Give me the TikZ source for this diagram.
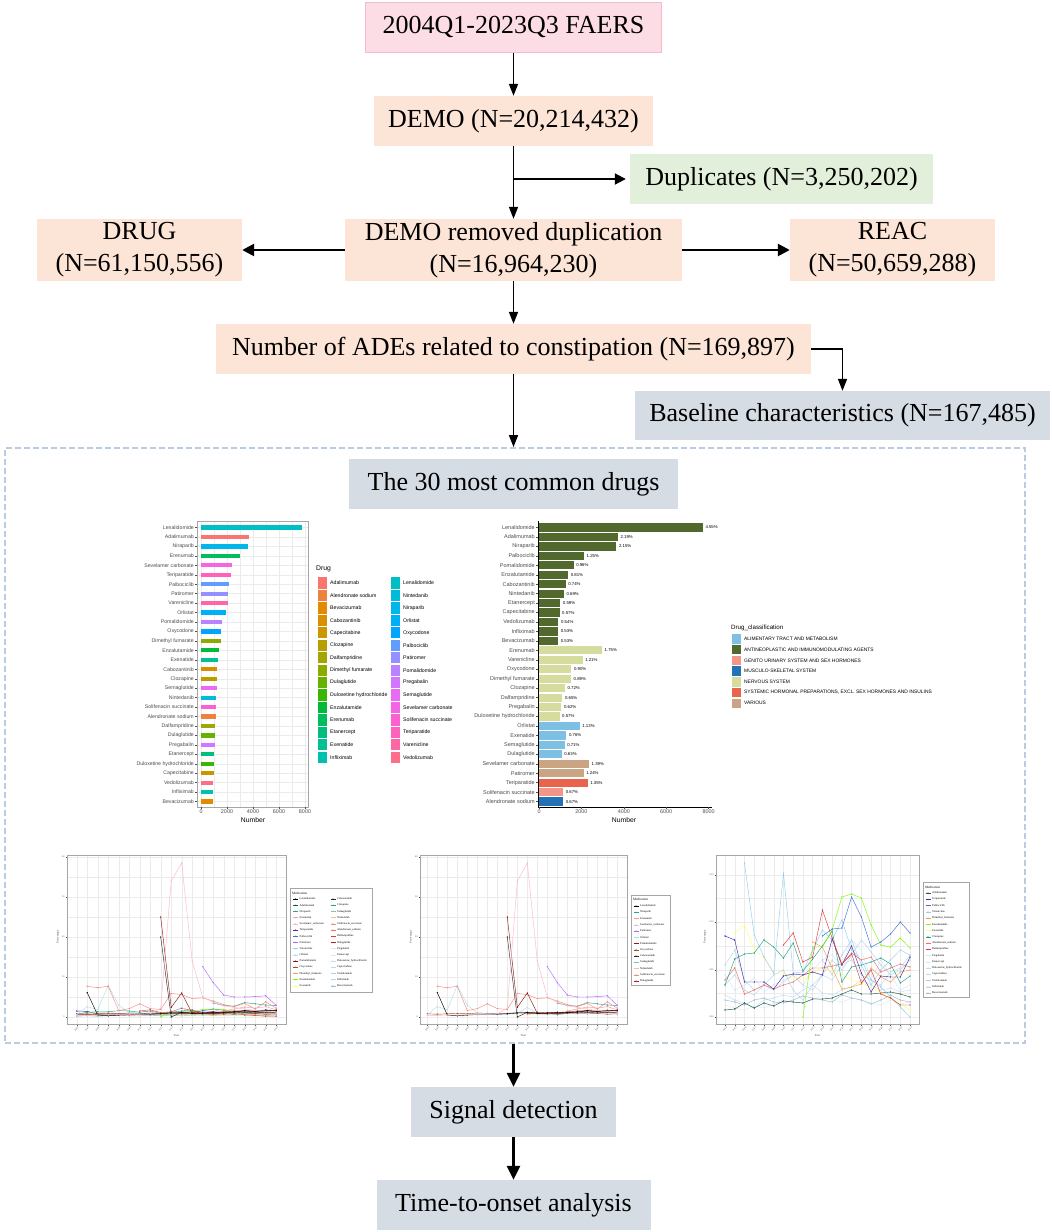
\documentclass[tikz,border=0pt]{standalone}
\usepackage{fontspec}
\setmainfont{Liberation Serif}
\newfontfamily\chartsans{Liberation Sans}
\usetikzlibrary{arrows.meta}

\definecolor{pinkbox}{HTML}{FDDDE5}
\definecolor{pinkedge}{HTML}{F7BACB}
\definecolor{peach}{HTML}{FCE4D6}
\definecolor{greenbox}{HTML}{E2EFDA}
\definecolor{graybox}{HTML}{D6DCE4}
\definecolor{dashblue}{HTML}{BACDE0}
\definecolor{gridgray}{HTML}{EBEBEB}
\definecolor{axgray}{HTML}{4D4D4D}
% ggplot hue palette (30 levels)
\definecolor{hu0}{HTML}{F8766D}\definecolor{hu1}{HTML}{ED813E}\definecolor{hu2}{HTML}{E28A00}
\definecolor{hu3}{HTML}{D89000}\definecolor{hu4}{HTML}{C99800}\definecolor{hu5}{HTML}{B79F00}
\definecolor{hu6}{HTML}{A3A500}\definecolor{hu7}{HTML}{8CAB00}\definecolor{hu8}{HTML}{65B200}
\definecolor{hu9}{HTML}{39B600}\definecolor{hu10}{HTML}{00BA38}\definecolor{hu11}{HTML}{00BD5F}
\definecolor{hu12}{HTML}{00BF7D}\definecolor{hu13}{HTML}{00C096}\definecolor{hu14}{HTML}{00C0AF}
\definecolor{hu15}{HTML}{00BFC4}\definecolor{hu16}{HTML}{00BBDA}\definecolor{hu17}{HTML}{00B6EB}
\definecolor{hu18}{HTML}{00B0F6}\definecolor{hu19}{HTML}{00A5FF}\definecolor{hu20}{HTML}{619CFF}
\definecolor{hu21}{HTML}{9590FF}\definecolor{hu22}{HTML}{B983FF}\definecolor{hu23}{HTML}{D376FF}
\definecolor{hu24}{HTML}{E76BF3}\definecolor{hu25}{HTML}{F564E3}\definecolor{hu26}{HTML}{FD61D1}
\definecolor{hu27}{HTML}{FF62BC}\definecolor{hu28}{HTML}{FF67A4}\definecolor{hu29}{HTML}{FD6F88}
% drug classes
\definecolor{cAL}{HTML}{7DC0E3}\definecolor{cAN}{HTML}{51692C}\definecolor{cGU}{HTML}{F4958A}
\definecolor{cMS}{HTML}{2372B5}\definecolor{cNS}{HTML}{D5DC9E}\definecolor{cSH}{HTML}{E8644C}
\definecolor{cVA}{HTML}{C9A583}
% medication lines
\definecolor{mLena}{HTML}{000000}\definecolor{mAdal}{HTML}{1E5A46}\definecolor{mNira}{HTML}{2BA39B}
\definecolor{mEren}{HTML}{F4A0A0}\definecolor{mSeve}{HTML}{FFB6C8}\definecolor{mTeri}{HTML}{4B2A9E}
\definecolor{mPalb}{HTML}{3D6FD6}\definecolor{mPati}{HTML}{B36BFF}\definecolor{mVare}{HTML}{8ECFF5}
\definecolor{mOrli}{HTML}{B0E0EE}\definecolor{mPoma}{HTML}{8B1A1A}\definecolor{mOxyc}{HTML}{A0522D}
\definecolor{mDime}{HTML}{F5A04A}\definecolor{mEnza}{HTML}{7CFC00}\definecolor{mExen}{HTML}{FFFF70}
\definecolor{mCabo}{HTML}{2A2A2A}\definecolor{mCloz}{HTML}{23A184}\definecolor{mSema}{HTML}{7CC8AE}
\definecolor{mNint}{HTML}{FDC086}\definecolor{mSoli}{HTML}{F88A80}\definecolor{mAlen}{HTML}{F06F6F}
\definecolor{mDalf}{HTML}{E23A3A}\definecolor{mDula}{HTML}{B22222}\definecolor{mPreg}{HTML}{D3E8F3}
\definecolor{mEtan}{HTML}{DCECF6}\definecolor{mDulo}{HTML}{C3DEEE}\definecolor{mCape}{HTML}{BBD9EB}
\definecolor{mVedo}{HTML}{ABCFE6}\definecolor{mInfl}{HTML}{B5D5EA}\definecolor{mBeva}{HTML}{9DBCD6}

\newcommand\shlab{SYSTEMIC HORMONAL PREPARATIONS, EXCL. SEX HORMONES AND INSULINS}

\tikzset{
  fbox/.style={inner sep=0pt, align=center, font=\fontsize{26}{32}\selectfont},
  thinarrow/.style={line width=1.6pt, -{Triangle[length=12pt,width=9pt]}},
  sidearrow/.style={line width=2.5pt, -{Triangle[length=12pt,width=12pt]}},
  duparrow/.style={line width=2pt, -{Triangle[length=11pt,width=11pt]}},
  boldarrow/.style={line width=2.7pt, -{Triangle[length=14pt,width=13pt]}},
  ylabL/.style={font=\chartsans\fontsize{5.2}{6}\selectfont, text=axgray, inner sep=0pt, anchor=east},
  ylabR/.style={font=\chartsans\fontsize{5.5}{6}\selectfont, text=axgray, inner sep=0pt, anchor=east},
  pctlab/.style={font=\chartsans\fontsize{4.3}{5}\selectfont, text=black, inner sep=0pt, anchor=west},
  axlab/.style={font=\chartsans\fontsize{5.4}{6}\selectfont, text=axgray, inner sep=0pt},
  axtitle/.style={font=\chartsans\fontsize{6.8}{7}\selectfont, text=black, inner sep=0pt},
  leglab/.style={font=\chartsans\fontsize{5.2}{6}\selectfont, text=black, inner sep=0pt, anchor=west},
  clslab/.style={font=\chartsans\fontsize{4.9}{6}\selectfont, text=black, inner sep=0pt, anchor=west},
  tinylab/.style={font=\fontsize{2.4}{3}\selectfont, text=axgray, inner sep=0.2pt},
  mlab/.style={font=\fontsize{2.8}{3}\selectfont, text=black, inner sep=0pt, anchor=west},
  mtitle/.style={font=\fontsize{3.3}{4}\selectfont, text=black, inner sep=0pt, anchor=west},
  ser/.style={draw=#1, line width=0.45pt, mark=*, mark size=0.55pt, mark options={fill=#1, draw=#1, line width=0.1pt}},
  grid/.style={gridgray, line width=0.4pt},
}

% ---------- time-series data (value in %) ----------
\newcommand\serPaleA{%
 \draw[ser=mEtan] plot coordinates {(0,0.5)(1,0.6)(2,0.4)(3,0.5)(4,0.7)(5,0.6)(6,0.5)(7,0.6)(8,0.7)(9,0.6)(10,0.8)(11,0.7)(12,0.6)(13,0.8)(14,0.7)(15,0.9)(16,0.8)(17,0.7)(18,0.9)(19,0.8)};
 \draw[ser=mPreg] plot coordinates {(0,0.9)(1,1.1)(2,0.8)(3,1.2)(4,0.9)(5,1.0)(6,1.3)(7,1.1)(8,0.9)(9,1.2)(10,1.4)(11,1.1)(12,1.0)(13,1.3)(14,1.2)(15,1.5)(16,1.2)(17,1.4)(18,1.3)(19,1.1)};
 \draw[ser=mDulo] plot coordinates {(0,0.3)(1,0.4)(2,0.6)(3,0.5)(4,0.4)(5,0.6)(6,0.7)(7,0.5)(8,0.6)(9,0.8)(10,0.7)(11,0.6)(12,0.9)(13,0.8)(14,1.0)(15,0.9)(16,0.8)(17,1.0)(18,0.9)(19,1.1)};
 \draw[ser=mCape] plot coordinates {(0,0.7)(1,0.8)(2,0.6)(3,0.7)(4,0.5)(5,0.6)(6,0.8)(7,0.7)(8,0.6)(9,0.5)(10,0.6)(11,0.7)(12,0.9)(13,0.8)(14,0.7)(15,0.6)(16,0.7)(17,0.8)(18,0.6)(19,0.7)};
 \draw[ser=mBeva] plot coordinates {(0,0.2)(1,0.3)(2,0.2)(3,0.3)(4,0.4)(5,0.3)(6,0.3)(7,0.4)(8,0.3)(9,0.4)(10,0.3)(11,0.4)(12,0.5)(13,0.4)(14,0.5)(15,0.4)(16,0.6)(17,0.5)(18,0.4)(19,0.5)};
 \draw[ser=mVedo] plot coordinates {(10,1.4)(11,1.0)(12,1.6)(13,1.9)(14,1.2)(15,0.8)(16,1.1)(17,1.4)(18,1.6)(19,1.5)};
}
\newcommand\serLow{%
 \draw[ser=mAdal] plot coordinates {(0,0.7)(1,0.6)(2,0.6)(3,0.4)(4,0.6)(5,0.5)(6,0.6)(7,0.6)(8,0.5)(9,0.7)(10,0.7)(11,0.8)(12,0.8)(13,0.9)(14,0.9)(15,1.0)(16,1.0)(17,1.1)(18,1.0)(19,1.0)};
 \draw[ser=mTeri] plot coordinates {(0,1.5)(1,1.4)(2,0.8)(3,0.8)(4,0.8)(5,0.7)(6,0.9)(7,0.9)(8,0.9)(9,0.9)(10,0.9)(11,1.4)(12,1.2)(13,1.3)(14,0.9)(15,0.7)(16,0.9)(17,0.9)(18,0.9)(19,1.2)};
 \draw[ser=mPalb] plot coordinates {(11,1.0)(12,1.6)(13,2.0)(14,1.7)(15,1.3)(16,1.4)(17,1.5)(18,1.8)(19,1.6)};
 \draw[ser=mDime] plot coordinates {(9,1.2)(10,1.1)(11,0.9)(12,0.6)(13,0.6)(14,0.7)(15,0.9)(16,0.8)(17,0.7)(18,0.9)(19,0.9)};
 \draw[ser=mEnza] plot coordinates {(8,0)(9,1.2)(10,1.2)(11,1.4)(12,1.9)(13,2.0)(14,1.9)(15,1.4)(16,1.2)(17,1.2)(18,1.3)(19,1.2)};
 \draw[ser=mExen] plot coordinates {(1,1.0)(2,1.1)(3,0.8)(4,0.7)(5,0.5)(6,0.5)(7,0.6)(8,0.5)(9,0.6)(10,0.6)(11,0.5)(12,0.6)(13,0.5)(14,0.5)(15,0.4)(16,0.3)(17,0.3)(18,0.2)(19,0.2)};
 \draw[ser=mCloz] plot coordinates {(0,0.6)(1,1.2)(2,1.3)(3,1.3)(4,1.6)(5,1.5)(6,1.2)(7,1.5)(8,0.9)(9,1.2)(10,1.5)(11,1.8)(12,0.7)(13,1.0)(14,1.1)(15,1.2)(16,1.3)(17,1.1)(18,0.7)(19,0.9)};
 \draw[ser=mAlen] plot coordinates {(0,0.6)(1,0.8)(2,0.4)(3,0.5)(4,0.6)(5,0.5)(6,0.6)(7,0.7)(8,0.8)(9,1.0)(10,1.0)(11,1.0)(12,1.1)(13,1.3)(14,1.2)(15,1.3)(16,0.9)(17,1.0)(18,1.1)(19,1.0)};
 \draw[ser=mDalf] plot coordinates {(6,1.5)(7,1.8)(8,1.1)(9,1.3)(10,2.2)(11,1.6)(12,1.1)(13,1.3)(14,0.7)(15,1.0)(16,0.5)(17,0.4)(18,0.2)(19,0.2)};
}
\newcommand\serLena{\draw[ser=mLena] plot coordinates {(1,6.1)(2,0.5)(3,0.3)(4,0.5)(5,0.6)(6,0.7)(7,0.7)(8,0.8)(9,1.0)(10,1.1)(11,0.9)(12,1.0)(13,1.2)(14,1.1)(15,1.3)(16,1.6)(17,1.4)(18,1.5)(19,1.7)};}
\newcommand\serOxyc{\draw[ser=mOxyc] plot coordinates {(0,0.8)(1,0.7)(2,0.8)(3,0.9)(4,0.8)(5,1.0)(6,0.9)(7,0.8)(8,0.9)(9,1.1)(10,1.0)(11,0.8)(12,0.8)(13,0.7)(14,0.9)(15,1.0)(16,0.8)(17,0.9)(18,0.7)(19,0.8)};}
\newcommand\serNint{\draw[ser=mNint] plot coordinates {(10,0.6)(11,0.9)(12,1.1)(13,1.0)(14,1.2)(15,1.1)(16,1.3)(17,1.0)(18,1.1)(19,1.0)};}
\newcommand\serSema{\draw[ser=mSema] plot coordinates {(13,0.5)(14,1.0)(15,1.2)(16,1.5)(17,1.6)(18,1.5)(19,1.7)};}
\newcommand\serDula{\draw[ser=mDula] plot coordinates {(10,0.8)(11,1.2)(12,1.0)(13,1.1)(14,1.3)(15,1.5)(16,1.6)(17,1.4)(18,1.7)(19,1.5)};}
\newcommand\serEren{\draw[ser=mEren] plot coordinates {(14,1.5)(15,2.0)(16,2.5)(17,2.2)(18,2.6)(19,1.8)};}
\newcommand\serOrli{\draw[ser=mOrli] plot coordinates {(0,0.6)(1,2.6)(2,1.8)(3,7.9)(4,3.0)(5,1.0)(6,0.8)(7,0.7)(8,0.7)(9,0.9)(10,2.4)(11,0.8)(12,0.7)(13,0.9)(14,1.0)(15,0.8)(16,0.9)(17,1.1)(18,0.8)(19,0.9)};}
\newcommand\serNira{\draw[ser=mNira] plot coordinates {(13,3.5)(14,2.9)(15,2.7)(16,3.6)(17,3.3)(18,3.0)(19,2.9)};}
\newcommand\serSoli{\draw[ser=mSoli] plot coordinates {(1,7.7)(2,7.3)(3,7.7)(4,1.6)(5,2.1)(6,3.3)(7,2.1)(8,1.9)(9,5.9)(10,5.6)(11,4.6)(12,4.8)(13,4.0)(14,3.1)(15,2.6)(16,3.4)(17,2.0)(18,3.8)(19,2.2)};}
\newcommand\serPati{\draw[ser=mPati] plot coordinates {(12,12.6)(13,8.6)(14,5.5)(15,5.0)(16,5.0)(17,5.1)(18,5.3)(19,2.9)};}
\newcommand\serCabo{\draw[ser=mCabo] plot coordinates {(8,20)(9,0)(10,1.2)(11,1.0)(12,0.8)(13,0.9)(14,1.1)(15,1.0)(16,1.2)(17,1.0)(18,1.3)(19,1.1)};}
\newcommand\serPoma{\draw[ser=mPoma] plot coordinates {(8,25)(9,2.4)(10,6.0)(11,0.9)(12,1.0)(13,0.8)(14,1.0)(15,1.2)(16,1.5)(17,1.3)(18,1.1)(19,1.2)};}
\newcommand\serSeve{\draw[ser=mSeve] plot coordinates {(0,0.4)(1,0.4)(2,0.5)(3,0.5)(4,0.6)(5,0.6)(6,0.7)(7,0.8)(8,2.2)(9,34)(10,38.5)(11,14)(12,5)(13,3.7)(14,2.8)(15,2.4)(16,2.0)(17,1.6)(18,1.4)(19,1.2)};}

% x axis of a time panel: #1 prefix, #2 left, #3 right, #4 first-year x, #5 step
\newcommand\timeaxis[5]{%
 \foreach \yr [count=\k from 0] in {2004,...,2023} {
   \draw[grid] ({#4+#5*\k},855) -- ({#4+#5*\k},1024);
   \draw[axgray, line width=0.3pt] ({#4+#5*\k},1024) -- ({#4+#5*\k},1025.5);
   \node[tinylab, rotate=45, anchor=north east] (#1yr\k) at ({#4+#5*\k+1},1026) {\yr};
 }
 \node[tinylab, font=\fontsize{3}{3}\selectfont] (#1year) at ({(#2+#3)/2},1036) {Year};
}

\begin{document}
\begin{tikzpicture}[x=1pt,y=-1pt]
\useasboundingbox (0,0) rectangle (1052,1232);
\fill[white] (0,0) rectangle (1052,1232);

% ================= flowchart =================
\node[fbox, fill=pinkbox, draw=pinkedge, line width=1pt, minimum width=296pt, minimum height=50pt] (faers) at (513.5,27) {2004Q1-2023Q3 FAERS};
\node[fbox, fill=peach, minimum width=279pt, minimum height=50pt] (demo) at (513.5,121) {DEMO (N=20,214,432)};
\node[fbox, fill=greenbox, minimum width=303pt, minimum height=50pt] (dup) at (781.5,179) {Duplicates (N=3,250,202)};
\node[fbox, fill=peach, minimum width=337pt, minimum height=62pt] (dedup) at (513.5,250) {DEMO removed duplication\\(N=16,964,230)};
\node[fbox, fill=peach, minimum width=205pt, minimum height=62pt] (drug) at (139.5,250) {DRUG\\(N=61,150,556)};
\node[fbox, fill=peach, minimum width=205pt, minimum height=62pt] (reac) at (892.5,250) {REAC\\(N=50,659,288)};
\node[fbox, fill=peach, minimum width=595pt, minimum height=50pt] (ades) at (513.5,349) {Number of ADEs related to constipation (N=169,897)};
\node[fbox, fill=graybox, minimum width=415pt, minimum height=49pt] (base) at (842.5,415.5) {Baseline characteristics (N=167,485)};
\node[draw=dashblue, line width=1.8pt, dash pattern=on 6pt off 3pt, minimum width=1020pt, minimum height=595pt, inner sep=0pt] (panel) at (515,745.5) {};
\node[fbox, fill=graybox, minimum width=329pt, minimum height=50pt] (top30) at (513.5,484) {The 30 most common drugs};
\node[fbox, fill=graybox, minimum width=205pt, minimum height=50pt] (sig) at (513.5,1112) {Signal detection};
\node[fbox, fill=graybox, minimum width=274pt, minimum height=50pt] (tto) at (513.5,1205) {Time-to-onset analysis};

\draw[thinarrow] (faers) -- (demo);
\draw[thinarrow] (demo) -- (dedup);
\coordinate (branch) at (demo.south |- dup.west);
\draw[duparrow, shorten >=4pt] (branch) -- (dup.west);
\draw[sidearrow] (dedup.west) -- (drug.east);
\draw[sidearrow] (dedup.east) -- (reac.west);
\draw[thinarrow] (dedup) -- (ades);
\draw[thinarrow] (ades.east) -| (base.north);
\draw[thinarrow] (ades.south) -- (ades.south |- panel.north);
\draw[boldarrow] (panel.south -| sig) -- (sig.north);
\draw[boldarrow] (sig) -- (tto);

% ================= left bar chart =================
\foreach \gx in {201,227,253,279,305} \draw[grid] (\gx,521) -- (\gx,807);
\foreach \gx in {214,240,266,292} \draw[gridgray, line width=0.25pt] (\gx,521) -- (\gx,807);
\foreach \i in {0,...,29} \draw[grid] (197,527.5+9.45*\i) -- (308,527.5+9.45*\i);
\foreach \name/\pct/\col [count=\i from 0] in {Lenalidomide/4.55/hu15, Adalimumab/2.19/hu0, Niraparib/2.15/hu17, Erenumab/1.75/hu11, Sevelamer carbonate/1.39/hu25, Teriparatide/1.35/hu27, Palbociclib/1.25/hu20, Patiromer/1.24/hu21, Varenicline/1.21/hu28, Orlistat/1.13/hu18, Pomalidomide/0.96/hu22, Oxycodone/0.90/hu19, Dimethyl fumarate/0.89/hu7, Enzalutamide/0.81/hu10, Exenatide/0.76/hu13, Cabozantinib/0.74/hu3, Clozapine/0.72/hu5, Semaglutide/0.71/hu24, Nintedanib/0.69/hu16, Solifenacin succinate/0.67/hu26, Alendronate sodium/0.67/hu1, Dalfampridine/0.65/hu6, Dulaglutide/0.63/hu8, Pregabalin/0.62/hu23, Etanercept/0.59/hu12, Duloxetine hydrochloride/0.57/hu9, Capecitabine/0.57/hu4, Vedolizumab/0.54/hu29, Infliximab/0.53/hu14, Bevacizumab/0.53/hu2} {
  \fill[\col] (201,527.5+9.45*\i-2.1) rectangle ({201+22.09*\pct},527.5+9.45*\i+2.1);
  \draw[axgray, line width=0.4pt] (195,527.5+9.45*\i) -- (197,527.5+9.45*\i);
  \node[ylabL] (lbL\i) at (194,527.5+9.45*\i) {\name};
}
\draw[gray!70, line width=0.6pt] (197,521) rectangle (308,807);
\foreach \v [count=\k from 0] in {0,2000,4000,6000,8000} {
  \draw[axgray, line width=0.4pt] (201+26*\k,807) -- (201+26*\k,809);
  \node[axlab, anchor=north] (nxL\k) at (201+26*\k,810) {\v};
}
\node[axtitle, anchor=north] (numL) at (253,817) {Number};

% left legend
\node[axtitle, anchor=west] (drugT) at (316,569) {Drug};
\foreach \lab/\col [count=\i from 0] in {Adalimumab/hu0, Alendronate sodium/hu1, Bevacizumab/hu2, Cabozantinib/hu3, Capecitabine/hu4, Clozapine/hu5, Dalfampridine/hu6, Dimethyl fumarate/hu7, Dulaglutide/hu8, Duloxetine hydrochloride/hu9, Enzalutamide/hu10, Erenumab/hu11, Etanercept/hu12, Exenatide/hu13, Infliximab/hu14} {
  \fill[\col] (318,583+12.45*\i-5.6) rectangle (327,583+12.45*\i+5.6);
  \node[leglab] (lgL\i) at (330,583+12.45*\i) {\lab};
}
\foreach \lab/\col [count=\i from 0] in {Lenalidomide/hu15, Nintedanib/hu16, Niraparib/hu17, Orlistat/hu18, Oxycodone/hu19, Palbociclib/hu20, Patiromer/hu21, Pomalidomide/hu22, Pregabalin/hu23, Semaglutide/hu24, Sevelamer carbonate/hu25, Solifenacin succinate/hu26, Teriparatide/hu27, Varenicline/hu28, Vedolizumab/hu29} {
  \fill[\col] (391,583+12.45*\i-5.6) rectangle (400,583+12.45*\i+5.6);
  \node[leglab] (lgM\i) at (403,583+12.45*\i) {\lab};
}

% ================= right bar chart =================
\foreach \name/\pct/\col [count=\i from 0] in {Lenalidomide/4.55/cAN, Adalimumab/2.19/cAN, Niraparib/2.15/cAN, Palbociclib/1.25/cAN, Pomalidomide/0.96/cAN, Enzalutamide/0.81/cAN, Cabozantinib/0.74/cAN, Nintedanib/0.69/cAN, Etanercept/0.59/cAN, Capecitabine/0.57/cAN, Vedolizumab/0.54/cAN, Infliximab/0.53/cAN, Bevacizumab/0.53/cAN, Erenumab/1.75/cNS, Varenicline/1.21/cNS, Oxycodone/0.90/cNS, Dimethyl fumarate/0.89/cNS, Clozapine/0.72/cNS, Dalfampridine/0.65/cNS, Pregabalin/0.62/cNS, Duloxetine hydrochloride/0.57/cNS, Orlistat/1.13/cAL, Exenatide/0.76/cAL, Semaglutide/0.71/cAL, Dulaglutide/0.63/cAL, Sevelamer carbonate/1.39/cVA, Patiromer/1.24/cVA, Teriparatide/1.35/cSH, Solifenacin succinate/0.67/cGU, Alendronate sodium/0.67/cMS} {
  \fill[\col] (539,527.5+9.45*\i-4.1) rectangle ({539+36*\pct},527.5+9.45*\i+4.1);
  \node[pctlab] (pc\i) at ({539+36*\pct+2.5},527.5+9.45*\i) {\pct\%};
  \draw[axgray, line width=0.4pt] (536,527.5+9.45*\i) -- (538,527.5+9.45*\i);
  \node[ylabR] (lbR\i) at (535,527.5+9.45*\i) {\name};
}
\draw[black, line width=0.5pt] (538,521) -- (538,807) -- (712,807);
\foreach \v [count=\k from 0] in {0,2000,4000,6000,8000} {
  \draw[axgray, line width=0.4pt] (539+42.4*\k,807) -- (539+42.4*\k,809);
  \node[axlab, anchor=north] (nxR\k) at (539+42.4*\k,810) {\v};
}
\node[axtitle, anchor=north] (numR) at (624,817) {Number};

% right legend
\node[axtitle, anchor=west, font=\chartsans\fontsize{6.2}{7}\selectfont] (clsT) at (731,628) {Drug\_classification};
\foreach \lab/\col [count=\i from 0] in {ALIMENTARY TRACT AND METABOLISM/cAL, ANTINEOPLASTIC AND IMMUNOMODULATING AGENTS/cAN, GENITO URINARY SYSTEM AND SEX HORMONES/cGU, MUSCULO-SKELETAL SYSTEM/cMS, NERVOUS SYSTEM/cNS, \shlab/cSH, VARIOUS/cVA} {
  \fill[\col] (732,639+10.7*\i-4.7) rectangle (741,639+10.7*\i+4.7);
  \node[clslab] (cl\i) at (744,639+10.7*\i) {\lab};
}

% ================= line chart A =================
\timeaxis{A}{67}{286}{76.7}{10.5}
\foreach \yy in {1017,977,937,897,857} \draw[grid] (67,\yy) -- (286,\yy);
\foreach \yy in {997,957,917,877} \draw[gridgray, line width=0.2pt] (67,\yy) -- (286,\yy);
\foreach \v/\yy [count=\k from 0] in {0/1017,10/977,20/937,30/897,40/857} {
  \draw[axgray, line width=0.3pt] (65.5,\yy) -- (67,\yy);
  \node[tinylab, anchor=east] (Ay\k) at (65,\yy) {\v};
}
\node[tinylab, rotate=90, font=\fontsize{3}{3}\selectfont] (Aylab) at (58,937) {Percentage};
\begin{scope}[shift={(76.7,1017)}, x=10.5pt, y=4pt]
 \serPaleA \serLow \serOxyc \serNint \serSema \serDula \serEren \serOrli \serNira \serSoli \serPati \serCabo \serPoma \serLena \serSeve
\end{scope}
\draw[gray!70, line width=0.5pt] (67,855) rectangle (286,1024);
\fill[gray!45] (291.3,889.3) rectangle (373.3,993.3);
\filldraw[fill=white, draw=gray!70, line width=0.3pt] (290,888) rectangle (372,992);
\node[mtitle] (legAt) at (292,893) {Medication};
\foreach \lab/\col [count=\i from 0] in {Lenalidomide/mLena, Adalimumab/mAdal, Niraparib/mNira, Erenumab/mEren, Sevelamer\_carbonate/mSeve, Teriparatide/mTeri, Palbociclib/mPalb, Patiromer/mPati, Varenicline/mVare, Orlistat/mOrli, Pomalidomide/mPoma, Oxycodone/mOxyc, Dimethyl\_fumarate/mDime, Enzalutamide/mEnza, Exenatide/mExen} {
  \draw[\col, line width=0.5pt] (293,899+6.2*\i) -- (298,899+6.2*\i);
  \fill[\col] (295.5,899+6.2*\i) circle (0.7pt);
  \node[mlab] (lA\i) at (299.5,899+6.2*\i) {\lab};
}
\foreach \lab/\col [count=\i from 0] in {Cabozantinib/mCabo, Clozapine/mCloz, Semaglutide/mSema, Nintedanib/mNint, Solifenacin\_succinate/mSoli, Alendronate\_sodium/mAlen, Dalfampridine/mDalf, Dulaglutide/mDula, Pregabalin/mPreg, Etanercept/mEtan, Duloxetine\_hydrochloride/mDulo, Capecitabine/mCape, Vedolizumab/mVedo, Infliximab/mInfl, Bevacizumab/mBeva} {
  \draw[\col, line width=0.5pt] (330.5,899+6.2*\i) -- (335.5,899+6.2*\i);
  \fill[\col] (333,899+6.2*\i) circle (0.7pt);
  \node[mlab] (lB\i) at (337,899+6.2*\i) {\lab};
}

% ================= line chart B =================
\timeaxis{B}{420}{627}{427.3}{10}
\foreach \yy in {1017,977,937,897,857} \draw[grid] (420,\yy) -- (627,\yy);
\foreach \yy in {997,957,917,877} \draw[gridgray, line width=0.2pt] (420,\yy) -- (627,\yy);
\foreach \v/\yy [count=\k from 0] in {0/1017,10/977,20/937,30/897,40/857} {
  \draw[axgray, line width=0.3pt] (418.5,\yy) -- (420,\yy);
  \node[tinylab, anchor=east] (By\k) at (418,\yy) {\v};
}
\node[tinylab, rotate=90, font=\fontsize{3}{3}\selectfont] (Bylab) at (411,937) {Percentage};
\begin{scope}[shift={(427.3,1017)}, x=10pt, y=4pt]
 \serOxyc \serNint \serSema \serDula \serEren \serOrli \serNira \serSoli \serPati \serCabo \serPoma \serLena \serSeve
\end{scope}
\draw[gray!70, line width=0.5pt] (420,855) rectangle (627,1024);
\fill[gray!45] (632.3,896.3) rectangle (671.3,986.3);
\filldraw[fill=white, draw=gray!70, line width=0.3pt] (631,895) rectangle (670,985);
\node[mtitle] (legBt) at (633,899.5) {Medication};
\foreach \lab/\col [count=\i from 0] in {Lenalidomide/mLena, Niraparib/mNira, Erenumab/mEren, Sevelamer\_carbonate/mSeve, Patiromer/mPati, Orlistat/mOrli, Pomalidomide/mPoma, Oxycodone/mOxyc, Cabozantinib/mCabo, Semaglutide/mSema, Nintedanib/mNint, Solifenacin\_succinate/mSoli, Dulaglutide/mDula} {
  \draw[\col, line width=0.5pt] (633.5,906+6.25*\i) -- (638.5,906+6.25*\i);
  \fill[\col] (636,906+6.25*\i) circle (0.7pt);
  \node[mlab] (lC\i) at (640,906+6.25*\i) {\lab};
}

% ================= line chart C =================
\timeaxis{C}{716}{919}{725}{9.74}
\foreach \yy in {1017,970,922,875} \draw[grid] (716,\yy) -- (919,\yy);
\foreach \yy in {993.5,946,898.5} \draw[gridgray, line width=0.2pt] (716,\yy) -- (919,\yy);
\foreach \v/\yy [count=\k from 0] in {0.00/1017,0.05/970,0.10/922,0.15/875} {
  \draw[axgray, line width=0.3pt] (714.5,\yy) -- (716,\yy);
  \node[tinylab, anchor=east] (Cy\k) at (714,\yy) {\v};
}
\node[tinylab, rotate=90, font=\fontsize{3}{3}\selectfont] (Cylab) at (705,937) {Percentage};
\begin{scope}[shift={(725,0)}, x=9.74pt]
 \draw[ser=mEtan] plot coordinates {(0,1005)(1,1008)(2,1010)(3,1006)(4,1008)(5,1004)(6,1000)(7,1002)(8,1003)(9,1000)(10,995)(11,1000)(12,1002)(13,998)(14,1000)(15,1003)(16,1005)(17,1000)(18,1004)(19,1002)};
 \draw[ser=mPreg] plot coordinates {(0,975)(1,990)(2,985)(3,978)(4,992)(5,985)(6,980)(7,975)(8,985)(9,970)(10,960)(11,955)(12,965)(13,940)(14,950)(15,980)(16,960)(17,975)(18,990)(19,985)};
 \draw[ser=mDulo] plot coordinates {(0,995)(1,1000)(2,1003)(3,1008)(4,1000)(5,998)(6,995)(7,997)(8,990)(9,985)(10,993)(11,995)(12,990)(13,987)(14,980)(15,985)(16,990)(17,988)(18,992)(19,990)};
 \draw[ser=mCape] plot coordinates {(0,985)(1,975)(2,990)(3,995)(4,985)(5,990)(6,982)(7,975)(8,985)(9,990)(10,975)(11,980)(12,965)(13,960)(14,975)(15,980)(16,985)(17,972)(18,968)(19,955)};
 \draw[ser=mInfl] plot coordinates {(0,965)(1,950)(2,980)(3,990)(4,985)(5,975)(6,970)(7,990)(8,1000)(9,985)(10,975)(11,960)(12,970)(13,955)(14,940)(15,952)(16,965)(17,975)(18,970)(19,960)};
 \draw[ser=mVedo] plot coordinates {(10,960)(11,975)(12,955)(13,940)(14,965)(15,985)(16,970)(17,960)(18,950)(19,955)};
 \draw[ser=mBeva] plot coordinates {(0,1000)(1,1002)(2,1005)(3,1000)(4,998)(5,1002)(6,1003)(7,1000)(8,996)(9,998)(10,1000)(11,1002)(12,995)(13,998)(14,1000)(15,1004)(16,1000)(17,995)(18,1000)(19,1002)};
 \draw[ser=mAdal] plot coordinates {(0,1010)(1,1009)(2,1003)(3,1008)(4,1003)(5,1006)(6,1001)(7,1002)(8,1003)(9,999)(10,999)(11,998)(12,994)(13,990)(14,994)(15,994)(16,993)(17,992)(18,994)(19,997)};
 \draw[ser=mExen] plot coordinates {(1,933)(2,925)(3,950)(4,958)(5,973)(6,973)(7,977)(8,980)(9,973)(10,967)(11,972)(12,975)(13,980)(14,983)(15,987)(16,993)(17,999)(18,1003)(19,1010)};
 \draw[ser=mVare] plot coordinates {(2,863)(3,935)(4,957)(5,973)(6,873)(7,973)(8,972)(9,950)(10,930)(11,940)(12,920)(13,950)(14,960)(15,980)(16,987)(17,997)(18,1007)(19,1017)};
 \draw[ser=mDime] plot coordinates {(9,942)(10,947)(11,968)(12,989)(13,987)(14,984)(15,968)(16,977)(17,982)(18,972)(19,970)};
 \draw[ser=mAlen] plot coordinates {(0,980)(1,968)(2,994)(3,990)(4,985)(5,989)(6,985)(7,982)(8,975)(9,968)(10,968)(11,966)(12,964)(13,953)(14,960)(15,957)(16,972)(17,968)(18,964)(19,967)};
 \draw[ser=mCloz] plot coordinates {(0,985)(1,959)(2,954)(3,953)(4,940)(5,947)(6,958)(7,943)(8,971)(9,959)(10,946)(11,931)(12,982)(13,967)(14,965)(15,962)(16,958)(17,964)(18,983)(19,976)};
 \draw[ser=mTeri] plot coordinates {(0,936)(1,940)(2,982)(3,982)(4,982)(5,989)(6,976)(7,974)(8,975)(9,972)(10,975)(11,939)(12,965)(13,946)(14,973)(15,992)(16,976)(17,977)(18,977)(19,957)};
 \draw[ser=mDalf] plot coordinates {(6,945)(7,933)(8,962)(9,957)(10,910)(11,938)(12,964)(13,954)(14,983)(15,970)(16,994)(17,998)(18,1005)(19,1005)};
 \draw[ser=mEnza] plot coordinates {(8,1017)(9,947)(10,947)(11,930)(12,897)(13,894)(14,898)(15,925)(16,945)(17,947)(18,938)(19,948)};
 \draw[ser=mPalb] plot coordinates {(10,936)(11,929)(12,928)(13,897)(14,917)(15,947)(16,942)(17,934)(18,922)(19,933)};
\end{scope}
\draw[gray!70, line width=0.5pt] (716,855) rectangle (919,1024);
\fill[gray!45] (924.3,883.3) rectangle (970.3,998.3);
\filldraw[fill=white, draw=gray!70, line width=0.3pt] (923,882) rectangle (969,997);
\node[mtitle] (legCt) at (925,887) {Medication};
\foreach \lab/\col [count=\i from 0] in {Adalimumab/mAdal, Teriparatide/mTeri, Palbociclib/mPalb, Varenicline/mVare, Dimethyl\_fumarate/mDime, Enzalutamide/mEnza, Exenatide/mExen, Clozapine/mCloz, Alendronate\_sodium/mAlen, Dalfampridine/mDalf, Pregabalin/mPreg, Etanercept/mEtan, Duloxetine\_hydrochloride/mDulo, Capecitabine/mCape, Vedolizumab/mVedo, Infliximab/mInfl, Bevacizumab/mBeva} {
  \draw[\col, line width=0.5pt] (925.5,893+6.25*\i) -- (930.5,893+6.25*\i);
  \fill[\col] (928,893+6.25*\i) circle (0.7pt);
  \node[mlab] (lD\i) at (932,893+6.25*\i) {\lab};
}

\end{tikzpicture}
\end{document}
